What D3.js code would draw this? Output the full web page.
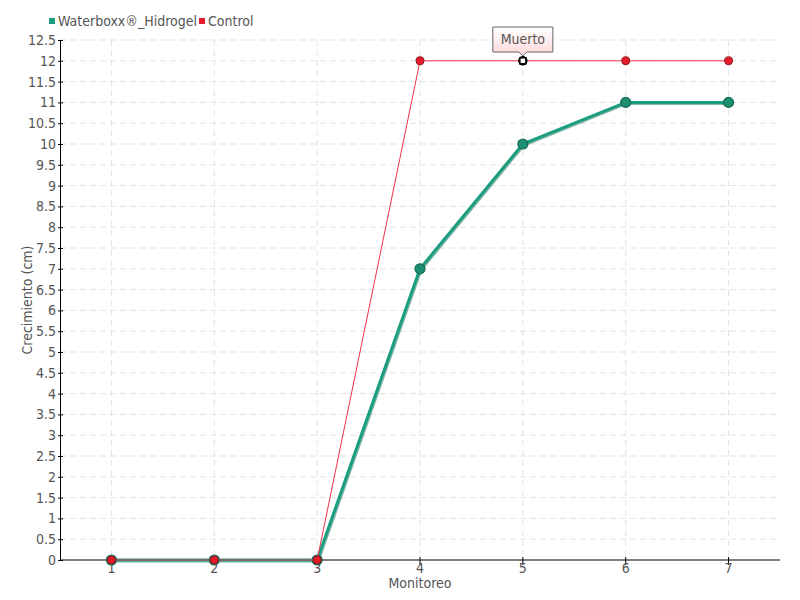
<!DOCTYPE html>
<html><head><meta charset="utf-8">
<script src="https://cdn.jsdelivr.net/npm/d3@7"></script>
<style>body{margin:0;background:#fff}text{font-family:"Liberation Sans Narrow","DejaVu Sans Condensed","Roboto Condensed",sans-serif;fill:#555}</style>
</head><body><svg id="c" width="800" height="600"></svg>
<script>
const categories = ["1","2","3","4","5","6","7"];
const waterboxx = [0,0,0,7,10,11,11];
const control = [0,0,0,12,12,12,12];
const yTicks = [0,0.5,1,1.5,2,2.5,3,3.5,4,4.5,5,5.5,6,6.5,7,7.5,8,8.5,9,9.5,10,10.5,11,11.5,12,12.5];
const seriesNames = ["Waterboxx®_Hidrogel","Control"];
const tooltipText = "Muerto";
const tooltipIndex = 4;

const svg = d3.select("#c");
const L=60,R=780,T=40,B=560;
const x = d3.scaleBand().domain(categories).range([L,R]);
const y = d3.scaleLinear().domain([0,12.5]).range([B,T]);
const cx = d => x(d)+x.bandwidth()/2;

// grid
svg.append("g").selectAll("line").data(yTicks.filter(t=>t>0)).join("line")
 .attr("x1",L).attr("x2",R).attr("y1",d=>y(d)).attr("y2",d=>y(d))
 .attr("stroke","#e3e3e3").attr("stroke-dasharray","6,4");
svg.append("g").selectAll("line").data(categories).join("line")
 .attr("x1",cx).attr("x2",cx).attr("y1",T).attr("y2",B)
 .attr("stroke","#e3e3e3").attr("stroke-dasharray","6,4");

// axes
const ya = svg.append("g").attr("transform",`translate(${L},0)`)
 .call(d3.axisLeft(y).tickValues(yTicks).tickFormat(d=>d).tickSizeInner(-3).tickSizeOuter(0).tickPadding(4));
ya.select(".domain").attr("stroke","#000");
ya.selectAll(".tick line").attr("stroke","#000").attr("x1",-2).attr("x2",3);
ya.selectAll("text").attr("font-size",14).style("fill","#555");
const xa = svg.append("g").attr("transform",`translate(0,${B})`)
 .call(d3.axisBottom(x).tickSizeOuter(0).tickSize(3).tickPadding(0));
xa.select(".domain").attr("stroke","#000").attr("d",`M${L},0H${R}`);
xa.selectAll(".tick line").attr("stroke","#000").attr("y1",-3).attr("y2",5);
xa.selectAll("text").attr("font-size",14).style("fill","#555");

svg.append("text").attr("x",(L+R)/2).attr("y",588).attr("text-anchor","middle").attr("font-size",14).text("Monitoreo");
svg.append("text").attr("transform",`translate(32,${(T+B)/2}) rotate(-90)`).attr("text-anchor","middle").attr("font-size",14).text("Crecimiento (cm)");

const line = d3.line().x((d,i)=>cx(categories[i])).y(d=>y(d));
// green series with shadow
svg.append("path").datum(waterboxx).attr("d",line).attr("fill","none").attr("stroke","#0d6e57").attr("stroke-width",3).attr("opacity",0.5).attr("transform","translate(1,1)");
svg.append("path").datum(waterboxx).attr("d",line).attr("fill","none").attr("stroke","#1b9e80").attr("stroke-width",3);
svg.append("g").selectAll("circle").data(waterboxx).join("circle")
 .attr("cx",(d,i)=>cx(categories[i])).attr("cy",d=>y(d)).attr("r",5)
 .attr("fill","#1d8f70").attr("stroke","#176b57").attr("stroke-width",1.2);
// red
svg.append("path").datum(control).attr("d",line).attr("fill","none").attr("stroke","#ee3348").attr("stroke-width",1);
svg.append("g").selectAll("circle").data(control).join("circle")
 .attr("cx",(d,i)=>cx(categories[i])).attr("cy",d=>y(d)).attr("r",4)
 .attr("fill",(d,i)=>i===tooltipIndex?"#fff":"#e51b2b")
 .attr("stroke",(d,i)=>i===tooltipIndex?"#000":"#8a1a1a").attr("stroke-width",(d,i)=>i===tooltipIndex?1.5:1);
// highlight point as square
{
 const px=cx(categories[tooltipIndex]), py=y(control[tooltipIndex]);
 svg.append("rect").attr("x",px-3).attr("y",py-3).attr("width",6).attr("height",6).attr("fill","#fff").attr("stroke","#000").attr("stroke-width",1.5);
 const defs=svg.append("defs");
 const g=defs.append("linearGradient").attr("id","tg").attr("x1",0).attr("x2",0).attr("y1",0).attr("y2",1);
 g.append("stop").attr("offset","0%").attr("stop-color","#fff");
 g.append("stop").attr("offset","100%").attr("stop-color","#fdd8d8");
 const bx=px-30,by=27,bw=60,bh=25;
 svg.append("path").attr("d",`M${bx},${by}H${bx+bw}V${by+bh}H${px+4}L${px},${by+bh+4}L${px-4},${by+bh}H${bx}Z`)
  .attr("fill","url(#tg)").attr("stroke","#666").attr("stroke-width",1);
 svg.append("text").attr("x",px).attr("y",by+17).attr("text-anchor","middle").attr("font-size",14).text(tooltipText);
}
// legend
const colors=["#1b9e80","#e51b2b"];
const lx=[49,199];
seriesNames.forEach((n,i)=>{
 svg.append("rect").attr("x",lx[i]).attr("y",18).attr("width",6).attr("height",6).attr("fill",colors[i]);
 svg.append("text").attr("x",lx[i]+9).attr("y",26).attr("font-size",14).text(n);
});
</script></body></html>
